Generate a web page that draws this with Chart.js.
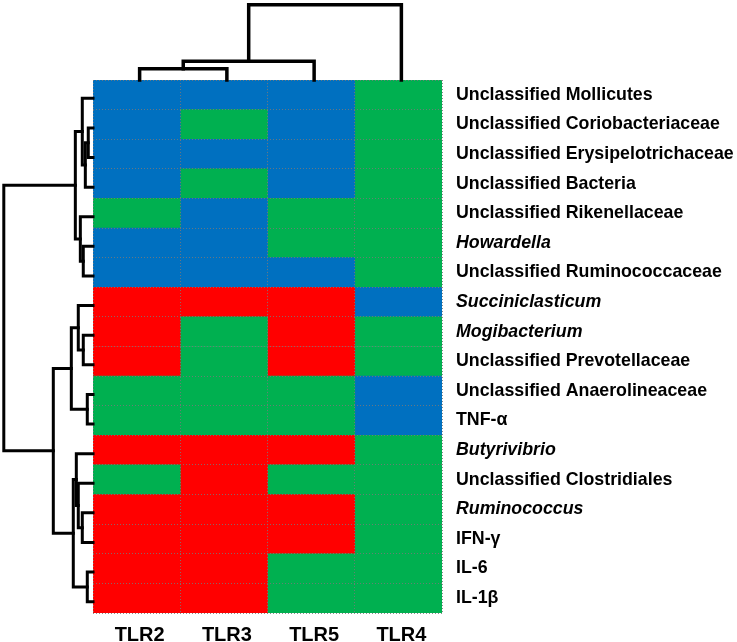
<!DOCTYPE html>
<html>
<head>
<meta charset="utf-8">
<script src="https://cdn.jsdelivr.net/npm/chart.js@4.4.1/dist/chart.umd.min.js"></script>
<style>
  html, body { margin: 0; padding: 0; background: #fff; }
  #wrap { width: 737px; height: 642px; position: relative; }
</style>
</head>
<body>
<div id="wrap"><canvas id="c"></canvas></div>
<script>
// ---- data ----
const categories = ['TLR2', 'TLR3', 'TLR5', 'TLR4'];
const rowLabels = [
  'Unclassified Mollicutes',
  'Unclassified Coriobacteriaceae',
  'Unclassified Erysipelotrichaceae',
  'Unclassified Bacteria',
  'Unclassified Rikenellaceae',
  'Howardella',
  'Unclassified Ruminococcaceae',
  'Succiniclasticum',
  'Mogibacterium',
  'Unclassified Prevotellaceae',
  'Unclassified Anaerolineaceae',
  'TNF-α',
  'Butyrivibrio',
  'Unclassified Clostridiales',
  'Ruminococcus',
  'IFN-γ',
  'IL-6',
  'IL-1β'
];
const italicLabels = ['Howardella', 'Succiniclasticum', 'Mogibacterium', 'Butyrivibrio', 'Ruminococcus'];
// -1 = negative (blue), 0 = not significant (green), 1 = positive (red)
const tlr2 = [-1, -1, -1, -1, 0, -1, -1, 1, 1, 1, 0, 0, 1, 0, 1, 1, 1, 1];
const tlr3 = [-1, 0, -1, 0, -1, -1, -1, 1, 0, 0, 0, 0, 1, 1, 1, 1, 1, 1];
const tlr5 = [-1, -1, -1, -1, 0, 0, -1, 1, 1, 1, 0, 0, 1, 0, 1, 1, 0, 0];
const tlr4 = [0, 0, 0, 0, 0, 0, 0, -1, 0, 0, -1, -1, 0, 0, 0, 0, 0, 0];

// row dendrogram: merges [a, b] (ids >= 18 are earlier merges) and heights (root = 100)
const rowMerges = [[1, 2], [18, 3], [0, 19], [5, 6], [4, 21], [20, 22], [8, 9], [7, 24], [10, 11], [25, 26],
                   [14, 15], [13, 28], [12, 29], [16, 17], [30, 31], [27, 32], [23, 33]];
const rowHeights = [5.3, 8.6, 12.0, 10.9, 14.2, 19.8, 10.9, 16.5, 6.4, 24.3, 12.0, 16.5, 18.7, 6.4, 22.1, 44.5, 100];
// column dendrogram
const colMerges = [[0, 1], [4, 2], [5, 3]];
const colHeights = [14.9, 24.8, 100];

// ---- rendering ----
const palette = { '-1': '#0070C0', '0': '#00B050', '1': '#FF0000' };
const columns = [tlr2, tlr3, tlr5, tlr4];

function drawDendro(ctx, n, merges, heights, leafPos, heightPix, vertical) {
  const pos = [], hp = [];
  for (let i = 0; i < n; i++) { pos.push(leafPos(i)); hp.push(heightPix(0)); }
  merges.forEach((m, k) => {
    const [a, b] = m;
    const h = heightPix(heights[k]);
    const pa = pos[a], pb = pos[b];
    ctx.beginPath();
    if (vertical) { // top dendrogram: pos = x, height = y
      ctx.moveTo(pa, hp[a]); ctx.lineTo(pa, h); ctx.lineTo(pb, h); ctx.lineTo(pb, hp[b]);
    } else {        // left dendrogram: pos = y, height = x
      ctx.moveTo(hp[a], pa); ctx.lineTo(h, pa); ctx.lineTo(h, pb); ctx.lineTo(hp[b], pb);
    }
    ctx.stroke();
    pos.push((pa + pb) / 2);
    hp.push(h);
  });
}

const dendroPlugin = {
  id: 'dendro',
  afterDraw(chart) {
    const ctx = chart.ctx;
    const area = chart.chartArea;
    const ys = chart.scales.y, xs = chart.scales.xc;
    ctx.save();
    ctx.strokeStyle = '#000';
    ctx.lineJoin = 'miter';
    ctx.lineCap = 'square';
    ctx.lineWidth = 3;
    drawDendro(ctx, rowLabels.length, rowMerges, rowHeights,
      i => ys.getPixelForValue(i) + 3.5,
      h => area.left - 0.892 * h, false);
    ctx.lineWidth = 3.5;
    drawDendro(ctx, categories.length, colMerges, colHeights,
      i => xs.getPixelForValue(i) + 3,
      h => area.top - 0.753 * h, true);
    ctx.restore();
  }
};

const gridColor = 'rgba(120,120,120,0.85)';

new Chart(document.getElementById('c'), {
  type: 'bar',
  data: {
    labels: rowLabels,
    datasets: columns.map((vals, c) => ({
      label: categories[c],
      data: vals.map(() => [c, c + 1]),
      backgroundColor: vals.map(v => palette[String(v)]),
      borderWidth: 0,
      grouped: false,
      barPercentage: 1,
      categoryPercentage: 1,
      xAxisID: 'x',
      yAxisID: 'y'
    }))
  },
  options: {
    indexAxis: 'y',
    responsive: true,
    maintainAspectRatio: false,
    animation: false,
    devicePixelRatio: 1,
    layout: { padding: { left: 93, top: 80, right: 0, bottom: 0 } },
    plugins: { legend: { display: false }, tooltip: { enabled: false } },
    scales: {
      x: { type: 'linear', min: 0, max: categories.length, display: false },
      xc: {
        type: 'category',
        labels: categories,
        position: 'bottom',
        offset: true,
        grid: { display: true, offset: true, drawTicks: false, color: gridColor, lineWidth: 1, z: 1 },
        border: { display: false, dash: [1, 2] },
        ticks: { color: '#000', padding: 10, labelOffset: 3, font: { family: 'Liberation Sans', size: 20, weight: 'bold' } },
        afterFit(s) { s.height = 29; }
      },
      y: {
        type: 'category',
        position: 'right',
        offset: true,
        grid: { display: true, offset: true, drawTicks: false, color: gridColor, lineWidth: 1, z: 1 },
        border: { display: false, dash: [1, 2] },
        ticks: {
          color: '#000',
          padding: 14,
          autoSkip: false,
          font: (ctx) => ({
            family: 'Liberation Sans',
            size: 17.8,
            weight: 'bold',
            style: italicLabels.includes(rowLabels[ctx.index]) ? 'italic' : 'normal'
          })
        },
        afterFit(s) { s.width = 295; }
      }
    }
  },
  plugins: [dendroPlugin]
});
</script>
</body>
</html>
